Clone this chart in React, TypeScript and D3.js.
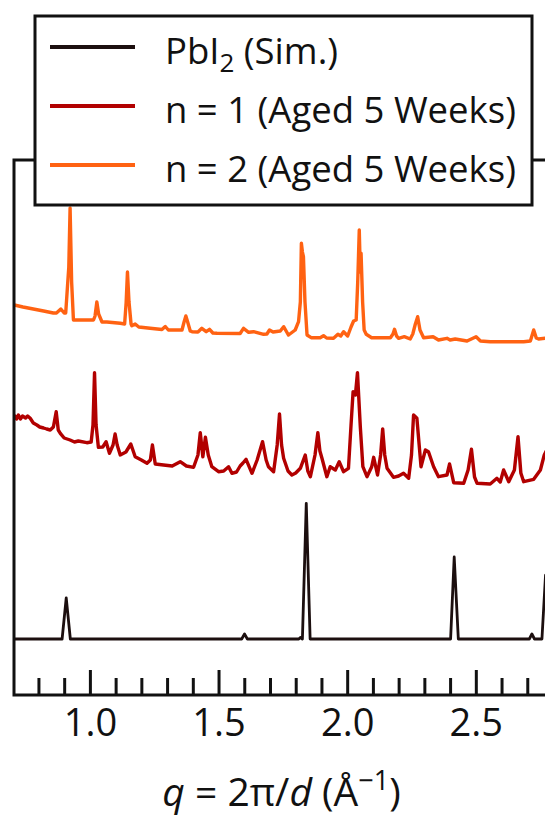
import React, { useRef, useEffect } from 'react';
import * as d3 from 'd3';

// XRD traces: [q (1/Å), intensity (a.u., above own baseline)]
const pbi2Sim: [number, number][] = [
  [0.705, 0], [0.892, 0], [0.908, 41], [0.924, 0], [1.59, 0], [1.601, 5], [1.612, 0],
  [1.812, 0], [1.818, 1.5], [1.826, 0], [1.841, 135.7], [1.856, 0], [2.402, 0], [2.416, 82],
  [2.432, 0], [2.708, 0], [2.718, 5], [2.728, 0], [2.757, 0], [2.771, 64], [2.787, 0], [2.8, 0],
];

const n1Aged: [number, number][] = [
  [0.706, 70], [0.715, 66], [0.722, 70], [0.730, 66], [0.738, 69], [0.750, 67], [0.758, 69], [0.768, 66.7],
  [0.780, 62], [0.794, 60], [0.805, 58], [0.820, 57], [0.832, 56], [0.846, 55], [0.858, 58], [0.869, 73.3],
  [0.877, 55], [0.885, 51.7], [0.900, 47], [0.923, 45], [0.940, 43], [0.955, 44], [0.988, 42.3], [1.005, 43],
  [1.012, 60], [1.018, 112.3], [1.024, 60], [1.033, 37.7], [1.050, 38], [1.063, 43.3], [1.076, 31.7],
  [1.090, 40], [1.098, 51], [1.106, 40], [1.118, 30], [1.140, 33], [1.159, 41], [1.176, 28.3], [1.200, 25],
  [1.222, 21.7], [1.235, 25], [1.243, 40], [1.254, 21], [1.286, 20], [1.320, 19], [1.351, 23.3], [1.375, 19],
  [1.403, 17.7], [1.420, 30], [1.429, 52.3], [1.439, 28.3], [1.449, 47.7], [1.460, 30], [1.474, 18.3],
  [1.500, 13.3], [1.520, 14], [1.539, 18.3], [1.552, 11.7], [1.570, 13], [1.584, 19], [1.595, 22],
  [1.607, 25.7], [1.630, 11.7], [1.650, 25], [1.671, 43.3], [1.685, 25], [1.694, 18.3], [1.714, 13.3],
  [1.728, 40], [1.737, 71], [1.745, 40], [1.753, 26.7], [1.770, 14], [1.785, 10], [1.800, 12],
  [1.818, 16.7], [1.837, 30], [1.847, 14], [1.857, 8.3], [1.875, 30], [1.886, 52.3], [1.894, 34],
  [1.902, 26.7], [1.921, 8.3], [1.934, 18.3], [1.954, 15], [1.969, 23.3], [1.986, 13.3], [2.005, 16.7],
  [2.015, 60], [2.023, 93.3], [2.032, 90], [2.040, 112.3], [2.051, 58.3], [2.061, 18.3], [2.077, 8.3],
  [2.095, 18], [2.103, 27.7], [2.118, 10], [2.130, 30], [2.138, 56], [2.146, 30], [2.155, 16.7],
  [2.180, 7.7], [2.200, 9], [2.219, 11.7], [2.239, 6.7], [2.250, 30], [2.258, 70], [2.271, 66.7],
  [2.287, 18.3], [2.304, 35], [2.316, 33.3], [2.336, 18.3], [2.355, 8.3], [2.388, 10], [2.398, 21],
  [2.414, 2.3], [2.453, 1.7], [2.470, 15], [2.483, 35.7], [2.495, 8], [2.505, 1.7], [2.556, 1],
  [2.582, 6.7], [2.595, 3], [2.608, 15], [2.628, 3.3], [2.650, 15], [2.664, 48.3], [2.675, 12],
  [2.686, 3.3], [2.725, 5.7], [2.751, 15], [2.766, 30], [2.778, 36], [2.795, 10], [2.8, 8],
];

const n2Aged: [number, number][] = [
  [0.706, 37], [0.740, 35], [0.780, 33], [0.820, 31], [0.858, 29], [0.870, 29], [0.887, 33], [0.900, 29],
  [0.906, 29], [0.914, 60], [0.918, 75], [0.923, 134], [0.929, 60], [0.936, 22], [0.943, 22], [1.014, 22],
  [1.020, 26], [1.027, 40], [1.034, 28], [1.047, 20], [1.066, 20], [1.118, 18.7], [1.135, 18], [1.141, 40],
  [1.146, 70], [1.152, 40], [1.160, 18], [1.163, 16.3], [1.176, 18], [1.190, 15], [1.234, 13.7],
  [1.280, 12.5], [1.293, 15.5], [1.305, 12], [1.325, 12], [1.358, 12], [1.366, 20], [1.373, 26],
  [1.380, 20], [1.390, 11], [1.397, 10.3], [1.420, 10], [1.435, 13.7], [1.452, 10.3], [1.465, 12.7],
  [1.478, 9], [1.494, 8.7], [1.584, 8.5], [1.597, 13.7], [1.617, 9.7], [1.636, 10.3], [1.675, 7.7],
  [1.688, 8], [1.698, 12], [1.712, 10], [1.740, 11], [1.753, 15.3], [1.765, 10], [1.772, 7], [1.798, 12],
  [1.811, 20.3], [1.818, 40], [1.822, 98.7], [1.826, 90], [1.830, 85.3], [1.836, 40], [1.844, 7],
  [1.860, 4.3], [1.895, 4.3], [1.908, 6.3], [1.920, 4], [1.947, 3.7], [1.964, 7.7], [1.975, 6],
  [1.986, 10.3], [2.002, 6], [2.015, 15], [2.025, 21], [2.035, 22], [2.041, 60], [2.047, 112], [2.051, 70],
  [2.054, 88.7], [2.060, 40], [2.066, 12], [2.074, 7.7], [2.095, 4.3], [2.168, 4.3], [2.178, 8],
  [2.184, 12.7], [2.192, 6], [2.200, 3.7], [2.222, 5.3], [2.245, 3], [2.255, 8], [2.265, 18],
  [2.274, 25.3], [2.283, 12], [2.297, 4.3], [2.334, 5.3], [2.355, 2], [2.388, 3.7], [2.400, 2],
  [2.420, 3], [2.466, 1], [2.501, 5.3], [2.518, 1], [2.556, 0.3], [2.686, 0.3], [2.712, 1], [2.725, 12],
  [2.735, 4], [2.744, 3], [2.770, 3.7], [2.8, 3.5],
];

const seriesData = [pbi2Sim, n1Aged, n2Aged];
const seriesOffsets = [56, 210, 353];
const seriesColors = ['#1c0f0f', '#b20000', '#ff6212'];
const legendLabels = [
  { main: 'PbI', sub: '2', rest: ' (Sim.)' },
  { main: 'n = 1 (Aged 5 Weeks)', sub: '', rest: '' },
  { main: 'n = 2 (Aged 5 Weeks)', sub: '', rest: '' },
];

const majorTicks = [1.0, 1.5, 2.0, 2.5];
const minorTicks = [0.8, 0.9, 1.1, 1.2, 1.3, 1.4, 1.6, 1.7, 1.8, 1.9, 2.1, 2.2, 2.3, 2.4, 2.6, 2.7];

const W = 545;
const H = 820;
const left = 14;
const right = 553;
const top = 160;
const bottom = 695;
const font = '"Open Sans", sans-serif';

export default function App() {
  const axisRef = useRef<SVGGElement>(null);

  const x = d3.scaleLinear().domain([0.705, 2.8]).range([left, right]);
  const y = d3.scaleLinear().domain([0, bottom - top]).range([bottom, top]);

  useEffect(() => {
    if (!axisRef.current) return;
    const g = d3.select(axisRef.current);
    g.selectAll('*').remove();

    const minor = g.append('g').attr('class', 'minor').attr('transform', `translate(0,${bottom})`);
    minor.call(d3.axisBottom(x).tickValues(minorTicks).tickSize(-17).tickFormat(() => ''));
    const major = g.append('g').attr('class', 'major').attr('transform', `translate(0,${bottom})`);
    major.call(d3.axisBottom(x).tickValues(majorTicks).tickSize(-25).tickFormat(d3.format('.1f')));

    g.selectAll('.domain').remove();
    g.selectAll('.tick line').attr('stroke', '#111').attr('stroke-width', 3);
    major
      .selectAll('.tick text')
      .attr('y', 41)
      .attr('dy', 0)
      .attr('fill', '#111')
      .style('font-family', font)
      .style('font-size', '38px');
  }, []);

  const line = d3
    .line<[number, number]>()
    .x((d) => x(d[0]))
    .y((d) => y(d[1]));

  return (
    <svg width={W} height={H} style={{ position: 'absolute', left: 0, top: 0, background: '#fff' }}>
      <defs>
        <clipPath id="plot-clip">
          <rect x={left} y={top} width={right - left} height={bottom - top} />
        </clipPath>
      </defs>
      <g clipPath="url(#plot-clip)">
        {seriesData.map((s, i) => (
          <path
            key={i}
            d={line(s.map((p) => [p[0], p[1] + seriesOffsets[i]] as [number, number])) || ''}
            fill="none"
            stroke={seriesColors[i]}
            strokeWidth={i === 0 ? 2.8 : 3.4}
            strokeLinejoin="round"
          />
        ))}
      </g>
      <rect x={left} y={top} width={right - left} height={bottom - top} fill="none" stroke="#111" strokeWidth={3} />
      <g ref={axisRef} />

      <g>
        <rect x={35} y={16} width={497} height={189} fill="#fff" stroke="#111" strokeWidth={3} />
        {legendLabels.map((l, i) => (
          <g key={i} transform={`translate(0,${47 + i * 59})`}>
            <line x1={50} x2={135} y1={0} y2={0} stroke={seriesColors[i]} strokeWidth={4} />
            <text x={165} y={17} fontFamily={font} fontSize={36.5} fill="#111">
              {l.main}
              {l.sub && (
                <tspan dy={8} fontSize={26}>
                  {l.sub}
                </tspan>
              )}
              {l.rest && <tspan dy={l.sub ? -8 : 0}>{l.rest}</tspan>}
            </text>
          </g>
        ))}
      </g>

      <text x={(left + right) / 2 - 2} y={806} textAnchor="middle" fontFamily={font} fontSize={39} fill="#111">
        <tspan fontStyle="italic">q</tspan>
        {' = 2π/'}
        <tspan fontStyle="italic">d</tspan>
        {' (Å'}
        <tspan dy={-16} fontSize={27}>−1</tspan>
        <tspan dy={16}>)</tspan>
      </text>
    </svg>
  );
}
